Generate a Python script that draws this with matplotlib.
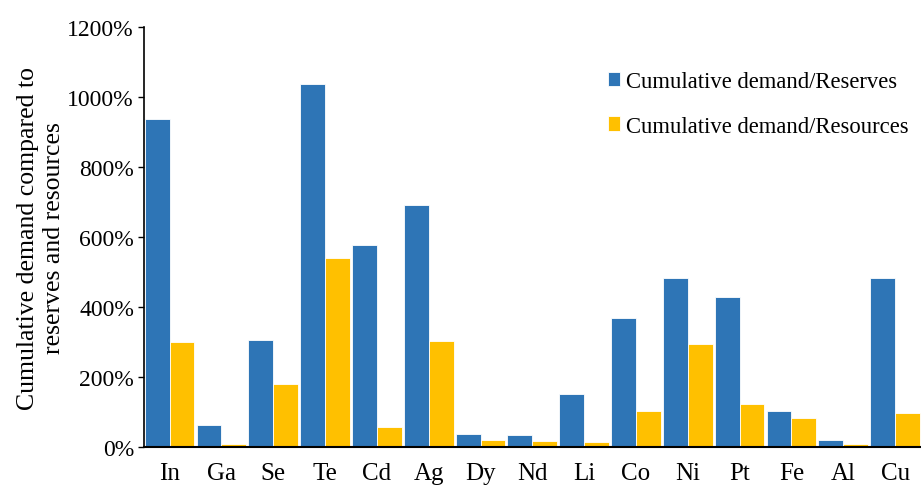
import matplotlib.pyplot as plt
import numpy as np
from matplotlib.ticker import FuncFormatter

plt.rcParams['font.family'] = ['Liberation Serif', 'DejaVu Serif']

metals = ['In', 'Ga', 'Se', 'Te', 'Cd', 'Ag', 'Dy', 'Nd', 'Li', 'Co', 'Ni', 'Pt', 'Fe', 'Al', 'Cu']
reserves = [937, 62, 307, 1038, 577, 691, 36, 33, 151, 370, 482, 429, 103, 20, 482]
resources = [299, 8, 179, 541, 56, 302, 21, 17, 14, 103, 293, 123, 84, 8, 98]

blue = '#2E75B6'
yellow = '#FFC000'

fig = plt.figure(figsize=(9.21, 4.89), dpi=100)
ax = fig.add_axes([0.156, 0.084, 0.844, 0.858])

x = np.arange(len(metals))
w = 0.48
ax.bar(x - w / 2, reserves, w, color=blue, edgecolor='white', linewidth=0.6,
       label='Cumulative demand/Reserves')
ax.bar(x + w / 2, resources, w, color=yellow, edgecolor='white', linewidth=0.6,
       label='Cumulative demand/Resources')

ax.set_xlim(-0.5, len(metals) - 0.5)
ax.set_ylim(0, 1200)
ax.set_yticks(range(0, 1201, 200))
ax.yaxis.set_major_formatter(FuncFormatter(lambda v, p: '{:d}%'.format(int(v))))
ax.set_xticks(x)
ax.set_xticklabels(metals)

ax.spines['top'].set_visible(False)
ax.spines['right'].set_visible(False)
ax.spines['left'].set_linewidth(1.2)
ax.spines['bottom'].set_linewidth(1.5)
ax.tick_params(axis='y', labelsize=17, length=4, width=1, pad=3)
ax.tick_params(axis='x', labelsize=18, length=0, pad=11)

ax.set_ylabel('Cumulative demand compared to\nreserves and resources', fontsize=18.5,
              linespacing=1.2, labelpad=2)

ax.legend(loc='upper right', bbox_to_anchor=(1.01, 0.945), frameon=False, fontsize=16.3,
          handlelength=0.55, handleheight=0.6, handletextpad=0.25, labelspacing=1.05)

plt.savefig('out.png', dpi=100)
